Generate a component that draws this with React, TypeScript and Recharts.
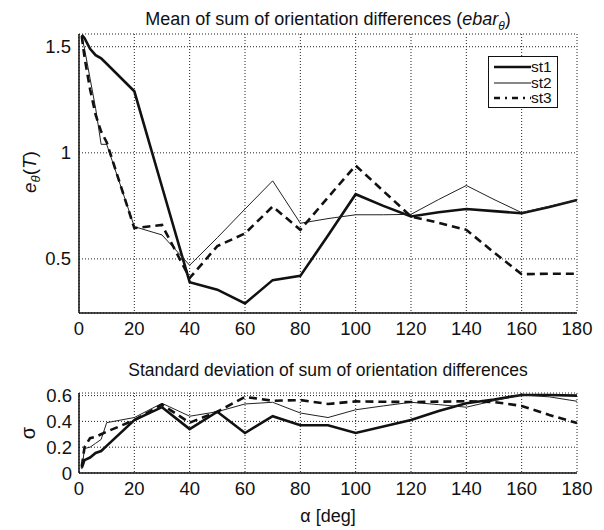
import React from "react";
import { LineChart, Line, XAxis, YAxis, CartesianGrid } from "recharts";

const alpha = [1, 2, 4, 6, 8, 10, 20, 30, 40, 50, 60, 70, 80, 90, 100, 110, 120, 130, 140, 150, 160, 170, 180];

const meanSt1 = [1.556, 1.54, 1.49, 1.46, 1.445, 1.42, 1.29, 0.84, 0.39, 0.355, 0.29, 0.4, 0.42, 0.61, 0.805, 0.75, 0.7, 0.72, 0.735, 0.725, 0.715, 0.745, 0.778];
const meanSt2 = [1.55, 1.49, 1.35, 1.21, 1.04, 1.04, 0.652, 0.613, 0.47, 0.6, 0.735, 0.868, 0.668, 0.69, 0.708, 0.708, 0.71, 0.78, 0.846, 0.78, 0.718, 0.748, 0.778];
const meanSt3 = [1.55, 1.45, 1.3, 1.18, 1.1, 1.05, 0.645, 0.66, 0.41, 0.56, 0.62, 0.747, 0.637, 0.79, 0.94, 0.82, 0.7, 0.67, 0.637, 0.53, 0.428, 0.43, 0.43];

const stdSt1 = [0.04, 0.1, 0.12, 0.155, 0.17, 0.21, 0.41, 0.51, 0.34, 0.475, 0.31, 0.44, 0.37, 0.37, 0.31, 0.36, 0.41, 0.48, 0.54, 0.57, 0.605, 0.605, 0.6];
const stdSt2 = [0.03, 0.19, 0.2, 0.23, 0.26, 0.39, 0.43, 0.54, 0.44, 0.475, 0.535, 0.548, 0.465, 0.43, 0.49, 0.52, 0.548, 0.53, 0.51, 0.56, 0.605, 0.59, 0.556];
const stdSt3 = [0.05, 0.2, 0.27, 0.28, 0.3, 0.32, 0.41, 0.53, 0.39, 0.475, 0.59, 0.56, 0.565, 0.535, 0.555, 0.552, 0.55, 0.553, 0.556, 0.55, 0.52, 0.45, 0.387];

const xTicks = [0, 20, 40, 60, 80, 100, 120, 140, 160, 180];
const meanTicks = [0.5, 1, 1.5];
const stdTicks = [0, 0.2, 0.4, 0.6];

const meanData = alpha.map((a, i) => ({ a, st1: meanSt1[i], st2: meanSt2[i], st3: meanSt3[i] }));
const stdData = alpha.map((a, i) => ({ a, st1: stdSt1[i], st2: stdSt2[i], st3: stdSt3[i] }));

const FONT = "'Liberation Sans', Arial, Helvetica, sans-serif";
const tickStyle = { fontSize: 18.5, fill: "#111", fontFamily: FONT };
const axisLine = { stroke: "#111", strokeWidth: 1.5 };

export default function App() {
  const lines = [
    <Line key="st1" type="linear" dataKey="st1" stroke="#111" strokeWidth={2.6} dot={false} isAnimationActive={false} />,
    <Line key="st2" type="linear" dataKey="st2" stroke="#222" strokeWidth={1} dot={false} isAnimationActive={false} />,
    <Line key="st3" type="linear" dataKey="st3" stroke="#111" strokeWidth={2.6} strokeDasharray="8 5" dot={false} isAnimationActive={false} />,
  ];
  return (
    <div style={{ position: "absolute", left: 0, top: 0, width: 604, height: 530, background: "#fff", fontFamily: FONT, color: "#111" }}>
      <div style={{ position: "absolute", left: 79, width: 498, top: 9, textAlign: "center", fontSize: 18, whiteSpace: "nowrap" }}>
        Mean of sum of orientation differences (<i>ebar</i><sub style={{ fontSize: 12 }}><i>θ</i></sub>)
      </div>
      <div style={{ position: "absolute", left: 0, top: 0 }}>
        <LineChart width={604} height={350} data={meanData} margin={{ top: 34, right: 27, bottom: 0, left: 0 }}>
          <CartesianGrid stroke="#222" strokeWidth={1} strokeDasharray="1 2" />
          <XAxis dataKey="a" type="number" domain={[0, 180]} ticks={xTicks} height={37} tickSize={0} tickMargin={9} axisLine={axisLine} tick={tickStyle} interval={0} />
          <YAxis type="number" domain={[0.245, 1.56]} allowDataOverflow ticks={meanTicks} interval={0} width={79} tickSize={0} tickMargin={8} axisLine={axisLine} tick={tickStyle} tickFormatter={(v: number) => String(v)} />
          {lines}
        </LineChart>
      </div>
      <div style={{ position: "absolute", left: 31, top: 172, transform: "translate(-50%, -50%) rotate(-90deg)", fontSize: 19, whiteSpace: "nowrap" }}>
        <i>e</i><sub style={{ fontSize: 13 }}><i>θ</i></sub>(<i>T</i>)
      </div>
      <div style={{ position: "absolute", left: 488, top: 56, width: 68, height: 50, border: "1.5px solid #111", background: "#fff" }}>
        {[
          { name: "st1", w: 2.6, dash: undefined as string | undefined },
          { name: "st2", w: 1, dash: undefined },
          { name: "st3", w: 2.6, dash: "6 5 2 5" },
        ].map((s, i) => (
          <div key={s.name} style={{ position: "absolute", left: 0, top: 2 + i * 15.5, height: 15, width: 68 }}>
            <svg width={40} height={15} style={{ position: "absolute", left: 5, top: 0 }}>
              <line x1={0} y1={8} x2={37} y2={8} stroke="#111" strokeWidth={s.w} strokeDasharray={s.dash} />
            </svg>
            <span style={{ position: "absolute", left: 42, top: 0, fontSize: 15.5, lineHeight: "15px" }}>{s.name}</span>
          </div>
        ))}
      </div>
      <div style={{ position: "absolute", left: 79, width: 498, top: 360, textAlign: "center", fontSize: 17.5, whiteSpace: "nowrap" }}>
        Standard deviation of sum of orientation differences
      </div>
      <div style={{ position: "absolute", left: 0, top: 360 }}>
        <LineChart width={604} height={150} data={stdData} margin={{ top: 33, right: 27, bottom: 0, left: 0 }}>
          <CartesianGrid stroke="#222" strokeWidth={1} strokeDasharray="1 2" />
          <XAxis dataKey="a" type="number" domain={[0, 180]} ticks={xTicks} height={37} tickSize={0} tickMargin={9} axisLine={axisLine} tick={tickStyle} interval={0} />
          <YAxis type="number" domain={[0, 0.62]} allowDataOverflow ticks={stdTicks} interval={0} width={79} tickSize={0} tickMargin={7} axisLine={axisLine} tick={tickStyle} tickFormatter={(v: number) => String(v)} />
          {lines}
        </LineChart>
      </div>
      <div style={{ position: "absolute", left: 28, top: 433, transform: "translate(-50%, -50%) rotate(-90deg)", fontSize: 20, whiteSpace: "nowrap" }}>
        σ
      </div>
      <div style={{ position: "absolute", left: 79, width: 498, top: 506, textAlign: "center", fontSize: 18, whiteSpace: "nowrap" }}>
        α [deg]
      </div>
    </div>
  );
}
